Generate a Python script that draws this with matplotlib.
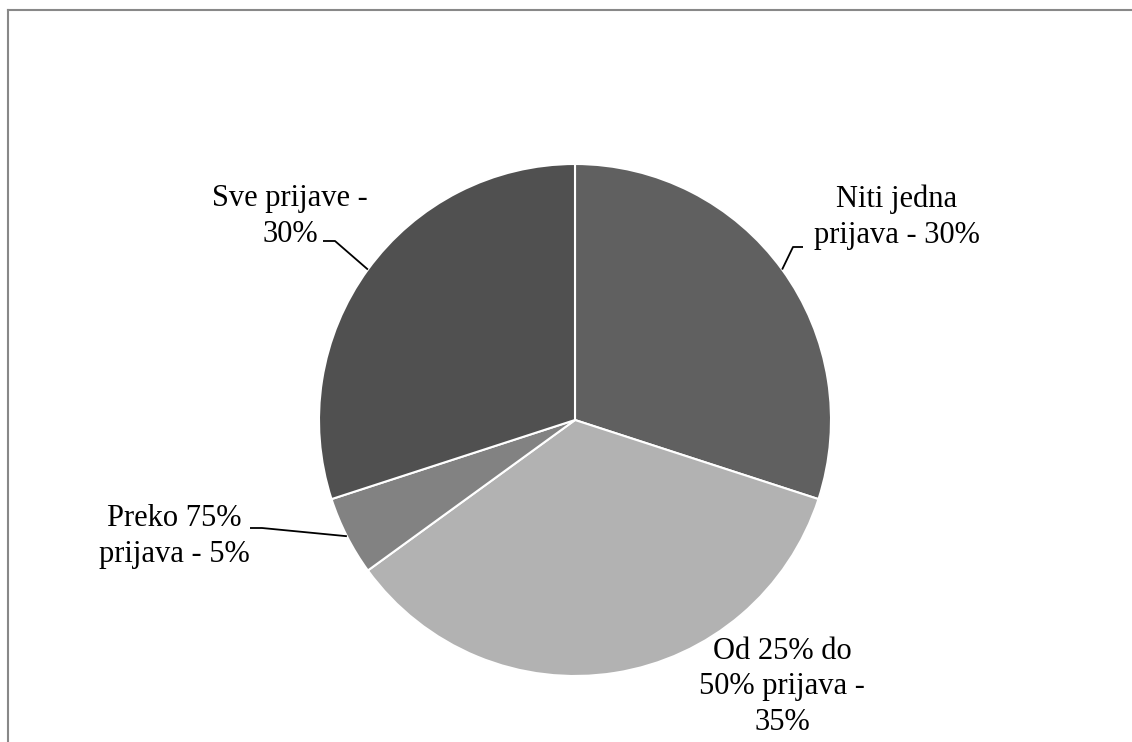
import matplotlib.pyplot as plt
import numpy as np

# Slice data (clockwise from the top)
labels = ['Niti jedna\nprijava - 30%', 'Od 25% do\n50% prijava -\n35%',
          'Preko 75%\nprijava - 5%', 'Sve prijave -\n30%']
values = [30, 35, 5, 30]
colors = ['#606060', '#b2b2b2', '#828282', '#505050']

W, H = 1132, 742
cx, cy, r = 575, 420, 256

# label text anchors (center x, baseline of last line) in pixel coords
text_pos = [(897, 243), (782, 730), (174, 562), (290, 242)]
# leader elbows: (elbow, end) or None
leaders = [((793, 247), (803, 247)), None,
           ((262, 528), (250, 528)), ((335, 241), (323, 241))]

fig = plt.figure(figsize=(W / 100, H / 100), dpi=100)
ax = fig.add_axes([0, 0, 1, 1])

wedges, _ = ax.pie(values, colors=colors, startangle=90, counterclock=False,
                   center=(cx, H - cy), radius=r,
                   wedgeprops=dict(edgecolor='white', linewidth=1.5))

# pie() changes the limits, so set them afterwards
ax.set_xlim(0, W)
ax.set_ylim(0, H)
ax.set_aspect('equal')
ax.axis('off')

for w, lab, (tx, ty), ld in zip(wedges, labels, text_pos, leaders):
    mid = np.deg2rad((w.theta1 + w.theta2) / 2)
    ex, ey = cx + r * np.cos(mid), (H - cy) + r * np.sin(mid)
    if ld is not None:
        (bx, by), (fx, fy) = ld
        ax.plot([ex, bx, fx], [ey, H - by, H - fy], color='black', lw=1.3,
                solid_capstyle='butt')
    ax.text(tx, H - ty, lab, ha='center', va='baseline', multialignment='center',
            fontsize=22, family='Liberation Serif', color='black',
            linespacing=1.3)

# frame lines (left and top)
ax.plot([8, 8], [0, H - 10], color='#888888', lw=1.5)
ax.plot([8, W], [H - 10, H - 10], color='#888888', lw=1.5)

fig.savefig('out.png', dpi=100)
